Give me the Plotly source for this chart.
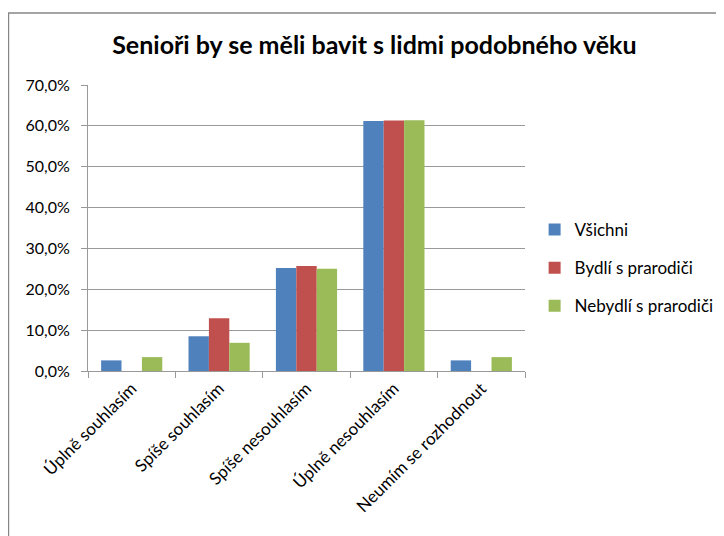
import plotly.graph_objects as go

# Data
kategorie = ['Úplně souhlasím', 'Spíše souhlasím', 'Spíše nesouhlasím',
             'Úplně nesouhlasím', 'Neumím se rozhodnout']
vsichni = [0.026, 0.085, 0.252, 0.612, 0.026]
bydli = [0.0, 0.129, 0.257, 0.613, 0.0]
nebydli = [0.034, 0.069, 0.250, 0.614, 0.034]

serie = [('Všichni', vsichni, '#4F81BD'),
         ('Bydlí s prarodiči', bydli, '#C0504D'),
         ('Nebydlí s prarodiči', nebydli, '#9BBB59')]

font = 'Lato, Calibri, sans-serif'
seda = '#999999'

fig = go.Figure()
for i, (nazev, hodnoty, barva) in enumerate(serie):
    fig.add_trace(go.Bar(x=kategorie, y=hodnoty, name=nazev,
                         marker=dict(color=barva, line=dict(width=0)),
                         legendgroup=str(i)))

fig.update_layout(
    width=724, height=536,
    margin=dict(l=80, r=207, t=77, b=173),
    paper_bgcolor='white', plot_bgcolor='white',
    separators=', ',
    barmode='group', bargap=0.3, bargroupgap=0,
    font=dict(family=font, size=14, color='#000000'),
    title=dict(text='<b>Senioři by se měli bavit s lidmi podobného věku</b>',
               font=dict(family=font, size=25, color='#000000'),
               x=0.506, xref='container', xanchor='center',
               y=0.931, yref='container', yanchor='middle'),
    legend=dict(x=1.022, y=0.36, xanchor='left', yanchor='middle',
                font=dict(family=font, size=17), traceorder='grouped',
                tracegroupgap=13, itemwidth=30),
    showlegend=True,
)

fig.update_yaxes(range=[0, 0.7], dtick=0.1, tickformat='.1%',
                 showgrid=True, gridcolor=seda, gridwidth=1,
                 showline=True, linecolor=seda, linewidth=1,
                 ticks='outside', ticklen=6, tickcolor=seda,
                 ticklabelstandoff=8,
                 zeroline=False, tickfont=dict(size=16))
fig.update_xaxes(tickangle=-45, showline=True, linecolor=seda, linewidth=1,
                 ticks='outside', ticklen=6, tickcolor=seda,
                 tickson='boundaries', tickfont=dict(size=17))

# outer chart border
fig.add_shape(type='rect', xref='paper', yref='paper',
              x0=-0.182, x1=1.6, y0=-1.0, y1=1.252,
              line=dict(color='#868686', width=1.5), layer='below')

fig.write_html('out.html')
